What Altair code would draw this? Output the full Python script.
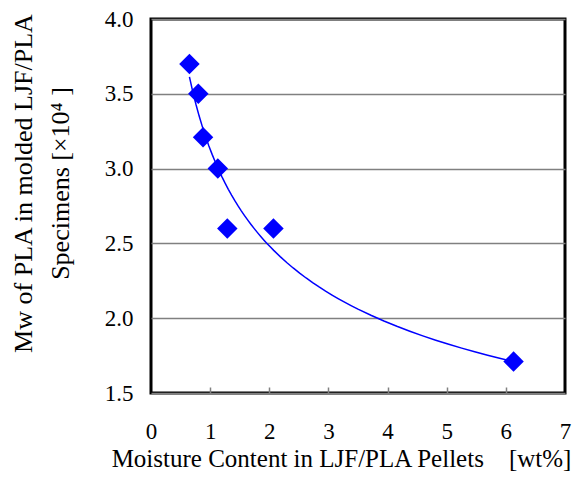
import altair as alt
import pandas as pd

moisture = [0.65, 0.80, 0.88, 1.13, 1.29, 2.07, 6.13]
mw = [3.70, 3.50, 3.21, 3.00, 2.60, 2.60, 1.71]
x_ticks = [0, 1, 2, 3, 4, 5, 6, 7]
inner_ticks = [1, 2, 3, 4, 5, 6]
y_ticks = [1.5, 2.0, 2.5, 3.0, 3.5, 4.0]

df = pd.DataFrame({"x": moisture, "y": mw})

FONT = "Liberation Serif"
BLUE = "#0000FF"

xscale = alt.Scale(domain=[0, 7], nice=False, zero=False)
yscale = alt.Scale(domain=[1.5, 4.0], nice=False, zero=False)

base = alt.Chart(df)

curve = base.transform_regression("x", "y", method="pow").mark_line(
    color=BLUE, strokeWidth=1.5
).encode(
    x=alt.X("x:Q", scale=xscale, axis=alt.Axis(
        orient="top", offset=-374, labels=False, domain=False, ticks=True,
        tickSize=6, tickColor="#808080", tickWidth=1.5, grid=False, title=None,
        values=inner_ticks)),
    y=alt.Y("y:Q", scale=yscale),
)

points = base.mark_point(
    shape="diamond", filled=True, size=420, color=BLUE, opacity=1
).encode(
    x=alt.X("x:Q", scale=xscale, axis=alt.Axis(
        values=x_ticks, ticks=False, domain=False, grid=False, format="d",
        labelFlush=False, labelPadding=27, titlePadding=3, titleX=190,
        title="Moisture Content in LJF/PLA Pellets\u00a0\u00a0\u00a0\u00a0[wt%]")),
    y=alt.Y("y:Q", scale=yscale, axis=alt.Axis(
        values=y_ticks, ticks=False, domain=False, grid=True, format=".1f",
        gridColor="#808080", gridWidth=1.5, labelPadding=18, titlePadding=31,
        titleLineHeight=37, titleFontSize=26, titleY=164,
        title=["Mw of PLA in molded LJF/PLA", "Specimens  [×10⁴ ]"])),
)

chart = alt.layer(curve, points).resolve_axis(x="independent").properties(
    width=414, height=374,
    autosize=alt.AutoSizeParams(type="none"),
    padding={"left": 143, "top": 11, "right": 7, "bottom": 83},
).configure_view(
    stroke="black", strokeWidth=3
).configure_axis(
    labelFont=FONT, titleFont=FONT, labelFontSize=23, titleFontSize=25,
    titleFontWeight="normal", labelColor="black", titleColor="black",
)

chart.save("out.html", embed_options={"renderer": "svg", "actions": False})
